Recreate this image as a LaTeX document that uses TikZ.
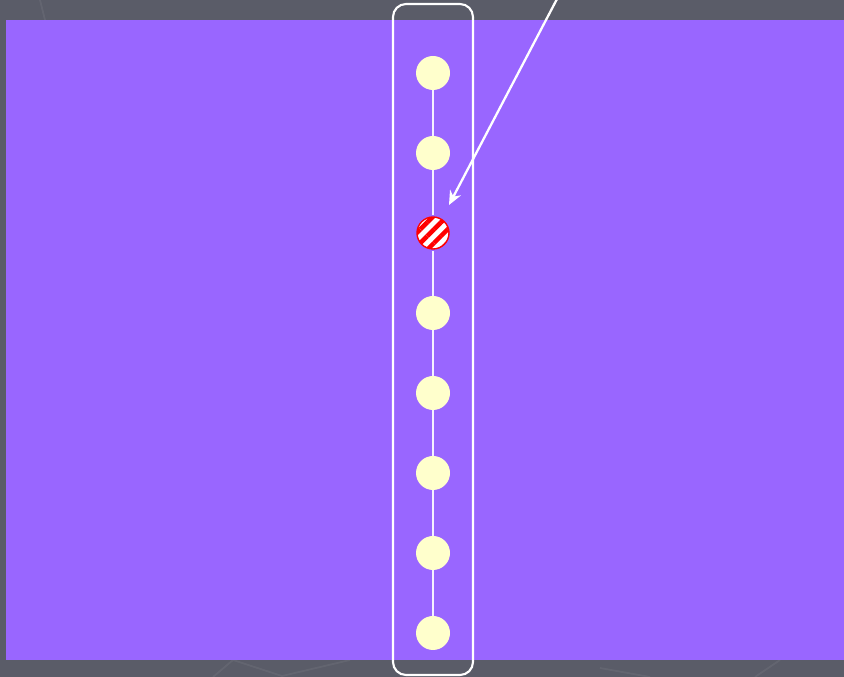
\documentclass[tikz,border=0pt]{standalone}
\usepackage{xcolor}
\usetikzlibrary{arrows.meta, positioning, patterns.meta}
\definecolor{slidegray}{HTML}{5A5C68}
\definecolor{slidepurple}{HTML}{9966FF}
\definecolor{beadcream}{HTML}{FFFFCC}

\begin{document}
\begin{tikzpicture}[
  bead/.style={circle, minimum size=0.68cm, inner sep=0pt, fill=beadcream},
  badbead/.style={circle, minimum size=0.64cm, inner sep=0pt, draw=red, line width=0.8pt,
    preaction={fill=white}, pattern={Lines[angle=45, distance=5.5pt, line width=2.6pt]}, pattern color=red},
  chainedge/.style={white!90!slidepurple, line width=1pt},
  framebox/.style={draw=white, line width=1.2pt, rounded corners=0.26cm},
  pointer/.style={-{Stealth[length=8pt, width=7pt]}, white, line width=1.3pt},
  faint/.style={white, opacity=0.06, line width=1pt}
]
  % slide background
  \useasboundingbox (0,0) rectangle (16.88,13.54);
  \fill[slidegray] (0,0) rectangle (16.88,13.54);
  \draw[faint] (4.66,0.34)--(4.26,0)  (4.66,0.34)--(5.64,0.02)--(7.0,0.34);
  \draw[faint] (15.6,0.34)--(15.1,0)  (12.0,0.18)--(13.0,0);
  \draw[faint] (0.8,13.54)--(0.9,13.14);
  \fill[slidepurple] (0.12,0.34) rectangle (16.88,13.14);
  % chain of beads
  \def\X{8.66}
  \node[bead]    (n0) at (\X,12.08) {};
  \node[bead]    (n1) at (\X,10.48) {};
  \node[badbead] (n2) at (\X,8.88)  {};
  \node[bead]    (n3) at (\X,7.28)  {};
  \node[bead]    (n4) at (\X,5.68)  {};
  \node[bead]    (n5) at (\X,4.08)  {};
  \node[bead]    (n6) at (\X,2.48)  {};
  \node[bead]    (n7) at (\X,0.88)  {};
  \draw[chainedge] (n0)--(n1)--(n2)--(n3)--(n4)--(n5)--(n6)--(n7);
  \node[framebox, minimum width=1.6cm, minimum height=13.42cm] (chain) at (\X,6.75) {};
  % pointer to the bad bead
  \coordinate (src) at (11.14,13.56);
  \coordinate (tip) at (8.98,9.44);
  \draw[pointer] (src)--(tip);
\end{tikzpicture}
\end{document}
